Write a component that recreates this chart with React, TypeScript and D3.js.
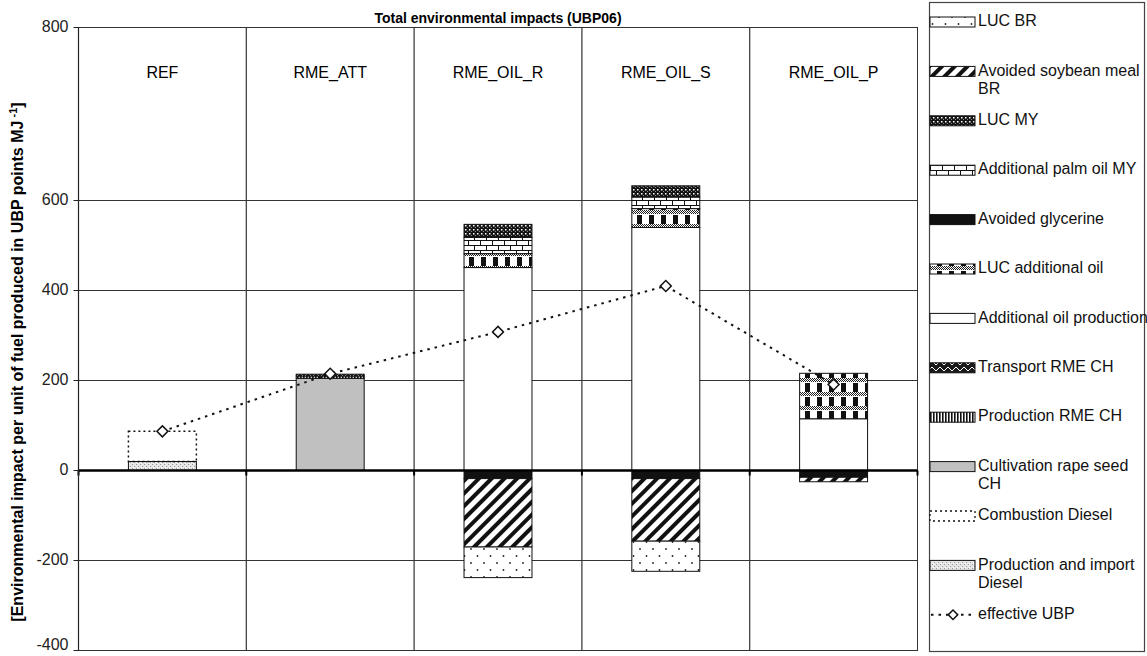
import React from 'react';
import * as d3 from 'd3';

// ---- data ----
const categories = ['REF', 'RME_ATT', 'RME_OIL_R', 'RME_OIL_S', 'RME_OIL_P'];
const productionImportDiesel = [20, 0, 0, 0, 0];
const combustionDiesel = [67, 0, 0, 0, 0];
const cultivationRapeSeedCH = [0, 205, 0, 0, 0];
const productionRMECH = [0, 5, 0, 0, 0];
const transportRMECH = [0, 4, 0, 0, 0];
const additionalOilProduction = [0, 0, 451, 540, 115];
const lucAdditionalOil = [0, 0, 31, 42, 101];
const avoidedGlycerine = [0, 0, -18, -18, -15];
const additionalPalmOilMY = [0, 0, 36, 22, 0];
const lucMY = [0, 0, 29, 13, 0];
const avoidedSoybeanMealBR = [0, 0, -152, -139, -10];
const lucBR = [0, 0, -68, -67, 0];
const effectiveUBP = [87, 215, 308, 410, 191];
const yTicks = [-400, -200, 0, 200, 400, 600, 800];

// stack order (bottom -> top)
const seriesKeys = [
  'prodImport', 'combustion', 'cultivation', 'prodRME', 'transportRME',
  'addOilProd', 'lucAddOil', 'glycerine', 'palmOil', 'lucMY', 'soybean', 'lucBR',
];
const seriesValues = [
  productionImportDiesel, combustionDiesel, cultivationRapeSeedCH, productionRMECH, transportRMECH,
  additionalOilProduction, lucAdditionalOil, avoidedGlycerine, additionalPalmOilMY, lucMY,
  avoidedSoybeanMealBR, lucBR,
];
const seriesLabels = [
  ['Production and import', 'Diesel'], ['Combustion Diesel'], ['Cultivation rape seed', 'CH'],
  ['Production RME CH'], ['Transport RME CH'], ['Additional oil production'], ['LUC additional oil'],
  ['Avoided glycerine'], ['Additional palm oil MY'], ['LUC MY'], ['Avoided soybean meal', 'BR'], ['LUC BR'],
];

const fills: Record<string, string> = {
  prodImport: 'url(#pProdImport)',
  combustion: '#ffffff',
  cultivation: '#c0c0c0',
  prodRME: 'url(#pProdRME)',
  transportRME: 'url(#pTransport)',
  addOilProd: '#ffffff',
  lucAddOil: 'url(#pLucAddOil)',
  glycerine: '#111111',
  palmOil: 'url(#pBricks)',
  lucMY: 'url(#pLucMY)',
  soybean: 'url(#pSoy)',
  lucBR: 'url(#pLucBR)',
};

const FONT = '"Liberation Sans", Arial, sans-serif';

export default function App() {
  const W = 1147, H = 656;
  const left = 78.5, right = 917.5, top = 27.5, bottom = 650.5;

  const x = d3.scaleBand<string>().domain(categories).range([left, right]).paddingInner(0).paddingOuter(0);
  const y = d3.scaleLinear().domain([-400, 600, 800]).range([bottom, 200.5, top]);
  const bw = x.bandwidth();
  const barW = bw * 0.405;

  const rows = categories.map((c, i) => {
    const r: any = { cat: c };
    seriesKeys.forEach((k, j) => (r[k] = seriesValues[j][i]));
    return r;
  });
  const stacked = d3.stack<any>().keys(seriesKeys).offset(d3.stackOffsetDiverging)(rows);

  const cx = (c: string) => (x(c) as number) + bw / 2;
  const line = d3.line<number>().x((_, i) => cx(categories[i])).y((v) => y(v));
  const diamond = d3.symbol().type(d3.symbolSquare).size(60);

  const legendOrder = seriesKeys.map((k, i) => ({ key: k, label: seriesLabels[i] })).reverse();
  const legendX = 929, legendTop = 22, legendStep = 49.4;

  return (
    <svg width={W} height={H} style={{ position: 'absolute', left: 0, top: 0, background: '#fff' }}
      fontFamily={FONT}>
      <defs>
        <pattern id="pFine" width="2" height="2" patternUnits="userSpaceOnUse">
          <rect width="2" height="2" fill="#fff" />
          <rect width="1" height="1" fill="#222" />
          <rect x="1" y="1" width="1" height="1" fill="#222" />
        </pattern>
        <pattern id="pProdImport" width="4" height="4" patternUnits="userSpaceOnUse">
          <rect width="4" height="4" fill="#e6e6e6" />
          <rect width="1" height="1" fill="#999" />
          <rect x="2" y="2" width="1" height="1" fill="#999" />
          <rect x="1" y="3" width="1" height="1" fill="#fff" />
        </pattern>
        <pattern id="pProdRME" width="3" height="3" patternUnits="userSpaceOnUse">
          <rect width="3" height="3" fill="#fff" />
          <rect width="1.6" height="3" fill="#111" />
        </pattern>
        <pattern id="pTransport" width="8" height="6" patternUnits="userSpaceOnUse">
          <rect width="8" height="6" fill="#1a1a1a" />
          <path d="M0,5 L4,1 L8,5" stroke="#fff" strokeWidth="1" fill="none" />
        </pattern>
        <pattern id="pLucAddOil" width="12" height="14" patternUnits="userSpaceOnUse">
          <rect width="12" height="14" fill="#fff" />
          <rect width="12" height="4" fill="url(#pFine)" />
          <rect x="1" y="5" width="5" height="9" fill="#111" />
        </pattern>
        <pattern id="pBricks" width="12" height="10" patternUnits="userSpaceOnUse">
          <rect width="12" height="10" fill="#fff" />
          <path d="M0,0.5 H12 M0,5.5 H12 M0.5,0 V5 M6.5,5 V10" stroke="#111" strokeWidth="1" />
        </pattern>
        <pattern id="pLucMY" width="4" height="4" patternUnits="userSpaceOnUse">
          <rect width="4" height="4" fill="#151515" />
          <rect x="1" y="1" width="1.5" height="1.5" fill="#fff" />
          <rect x="3" y="3" width="1" height="1" fill="#888" />
        </pattern>
        <pattern id="pSoy" width="9" height="9" patternUnits="userSpaceOnUse" patternTransform="rotate(45)">
          <rect width="9" height="9" fill="#fff" />
          <rect width="4" height="9" fill="#111" />
        </pattern>
        <pattern id="pLucBR" width="13" height="14" patternUnits="userSpaceOnUse">
          <rect width="13" height="14" fill="#fff" />
          <circle cx="3" cy="3" r="0.9" fill="#222" />
          <circle cx="9.5" cy="10" r="0.9" fill="#222" />
        </pattern>
      </defs>

      {/* title & headers */}
      <text x={(left + right) / 2} y={19} textAnchor="middle" dominantBaseline="middle"
        fontWeight="bold" fontSize={14}>Total environmental impacts (UBP06)</text>
      {categories.map((c) => (
        <text key={c} x={cx(c)} y={74} textAnchor="middle" dominantBaseline="middle" fontSize={16}>{c}</text>
      ))}

      {/* grid */}
      <rect x={left} y={top} width={right - left} height={bottom - top} fill="none" stroke="#333" strokeWidth={1} />
      {yTicks.filter((t) => t !== 0).map((t) => (
        <line key={'g' + t} x1={left} x2={right} y1={y(t)} y2={y(t)} stroke="#333" strokeWidth={1} />
      ))}
      {categories.slice(1).map((c) => (
        <line key={'v' + c} x1={x(c)} x2={x(c)} y1={top} y2={bottom} stroke="#333" strokeWidth={1.2} />
      ))}

      {/* bars */}
      {stacked.map((s) => (
        <g key={s.key}>
          {s.map((d, i) => {
            const h = Math.abs(y(d[0]) - y(d[1]));
            if (h < 0.01) return null;
            const isComb = s.key === 'combustion';
            return (
              <rect key={i} x={cx(categories[i]) - barW / 2} width={barW}
                y={Math.min(y(d[0]), y(d[1]))} height={h}
                fill={isComb ? 'none' : fills[s.key]}
                stroke="#111" strokeWidth={isComb ? 1.5 : 1}
                strokeDasharray={isComb ? '2,3' : undefined} />
            );
          })}
        </g>
      ))}

      {/* zero line + ticks */}
      <line x1={left} x2={right} y1={y(0)} y2={y(0)} stroke="#000" strokeWidth={2.5} />
      {categories.map((c) => (
        <line key={'zt' + c} x1={x(c)} x2={x(c)} y1={y(0)} y2={y(0) + 5} stroke="#000" strokeWidth={2} />
      ))}
      <line x1={right} x2={right} y1={y(0)} y2={y(0) + 5} stroke="#000" strokeWidth={2} />

      {/* y axis */}
      <line x1={left} x2={left} y1={top} y2={bottom} stroke="#222" strokeWidth={1.2} />
      {yTicks.map((t) => (
        <g key={'t' + t}>
          <line x1={left - 5} x2={left} y1={y(t)} y2={y(t)} stroke="#222" />
          <text x={left - 10} y={Math.min(y(t), 646)} textAnchor="end" dominantBaseline="middle"
            fontSize={16} fill="#222">{t}</text>
        </g>
      ))}
      <text transform={`translate(19,${(top + bottom) / 2 + 23}) rotate(-90)`} textAnchor="middle"
        dominantBaseline="middle" fontWeight="bold" fontSize={16}>
        [Environmental impact per unit of fuel produced in UBP points MJ
        <tspan dy={-5} fontSize={11}> -1</tspan><tspan dy={5}>]</tspan>
      </text>

      {/* effective UBP */}
      <path d={line(effectiveUBP) || ''} fill="none" stroke="#111" strokeWidth={2} strokeDasharray="2.5,5" />
      {effectiveUBP.map((v, i) => (
        <path key={'d' + i} d={diamond() || ''} transform={`translate(${cx(categories[i])},${y(v)}) rotate(45)`}
          fill="#fff" stroke="#111" strokeWidth={1.5} />
      ))}

      {/* legend */}
      <rect x={legendX + 0.5} y={2.5} width={215} height={649} fill="none" stroke="#444" strokeWidth={1.2} />
      {legendOrder.map((it, i) => {
        const ly = legendTop + i * legendStep;
        const isComb = it.key === 'combustion';
        return (
          <g key={'l' + it.key}>
            <rect x={legendX + 1} y={ly - 5} width={45} height={10} fill={isComb ? '#fff' : fills[it.key]}
              stroke="#111" strokeWidth={isComb ? 1.3 : 1} strokeDasharray={isComb ? '2,3' : undefined} />
            {it.label.map((t, j) => (
              <text key={j} x={legendX + 49} y={ly + j * 18} dominantBaseline="middle" fontSize={16} fill="#111">{t}</text>
            ))}
          </g>
        );
      })}
      {(() => {
        const ly = legendTop + legendOrder.length * legendStep;
        return (
          <g>
            <line x1={legendX + 2} x2={legendX + 46} y1={ly} y2={ly} stroke="#111" strokeWidth={2} strokeDasharray="2.5,5" />
            <path d={diamond.size(45)() || ''} transform={`translate(${legendX + 24},${ly}) rotate(45)`}
              fill="#fff" stroke="#111" strokeWidth={1.5} />
            <text x={legendX + 49} y={ly} dominantBaseline="middle" fontSize={16} fill="#111">effective UBP</text>
          </g>
        );
      })()}
    </svg>
  );
}
